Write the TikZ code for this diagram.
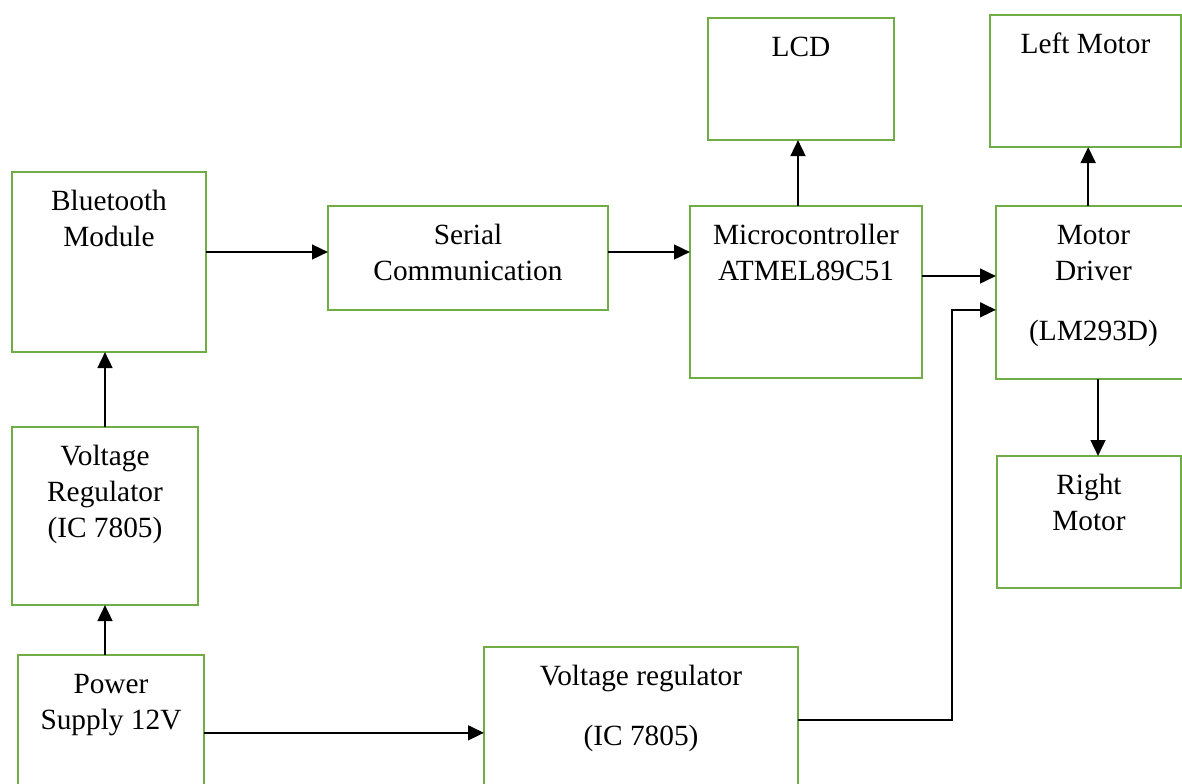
\documentclass[tikz,border=0pt]{standalone}
\usepackage{fontspec}
\setmainfont{Liberation Serif}
\usetikzlibrary{arrows.meta,fit}
\definecolor{boxgreen}{HTML}{70AD47}
\begin{document}
\begin{tikzpicture}[x=0.75pt,y=-0.75pt,
  box/.style={draw=boxgreen,line width=2.2pt,inner sep=0pt,outer sep=0pt},
  txt/.style={font=\fontsize{22}{27}\selectfont,align=center,inner sep=0pt,anchor=north},
  arr/.style={line width=1.9pt,-{Triangle[length=12pt,width=11pt]}}]
\useasboundingbox (0,0) rectangle (1182,783);
\clip (0,0) rectangle (1182,783);
% boxes
\node[box,fit={(708,18) (894,140)}] (lcd) {};
\node[box,fit={(990,15) (1181,147)}] (lm) {};
\node[box,fit={(12,172) (206,352)}] (bt) {};
\node[box,fit={(328,206) (608,310)}] (sc) {};
\node[box,fit={(690,206) (922,378)}] (mc) {};
\node[box,fit={(996,206) (1191,379)}] (md) {};
\node[box,fit={(997,456) (1181,588)}] (rm) {};
\node[box,fit={(12,427) (198,605)}] (vra) {};
\node[box,fit={(18,655) (204,800)}] (ps) {};
\node[box,fit={(484,647) (798,800)}] (vrb) {};
% texts
\node[txt] (lcdT) at ([yshift=-12.5pt]lcd.north) {\rule{0pt}{16pt}LCD};
\node[txt] (lmT) at ([yshift=-12.5pt]lm.north) {\rule{0pt}{16pt}Left Motor};
\node[txt] (btT) at ([yshift=-12.5pt]bt.north) {\rule{0pt}{16pt}Bluetooth\\Module};
\node[txt] (scT) at ([yshift=-12.5pt]sc.north) {\rule{0pt}{16pt}Serial\\Communication};
\node[txt] (mcT) at ([yshift=-12.5pt]mc.north) {\rule{0pt}{16pt}Microcontroller\\ATMEL89C51};
\node[txt] (mdT) at ([yshift=-12.5pt]md.north) {\rule{0pt}{16pt}Motor\\Driver\\[18pt](LM293D)};
\node[txt] (rmT) at ([yshift=-12.5pt]rm.north) {\rule{0pt}{16pt}Right\\Motor};
\node[txt] (vraT) at ([yshift=-12.5pt]vra.north) {\rule{0pt}{16pt}Voltage\\Regulator\\(IC 7805)};
\node[txt] (psT) at ([yshift=-12.5pt]ps.north) {\rule{0pt}{16pt}Power\\Supply 12V};
\node[txt] (vrbT) at ([yshift=-12.5pt]vrb.north) {\rule{0pt}{16pt}Voltage regulator\\[18pt](IC 7805)};
% connectors
\draw[arr] ([yshift=7.5pt]bt.east) -- ([yshift=7.5pt]bt.east -| sc.west);
\draw[arr] ([yshift=4.5pt]sc.east) -- ([yshift=4.5pt]sc.east -| mc.west);
\draw[arr] ([xshift=-2.25pt]lcd.south |- mc.north) -- ([xshift=-2.25pt]lcd.south);
\draw[arr] ([yshift=12pt]mc.east) -- ([yshift=12pt]mc.east -| md.west);
\draw[arr] ([xshift=2pt]lm.south |- md.north) -- ([xshift=2pt]lm.south);
\draw[arr] ([xshift=6.75pt]rm.north |- md.south) -- ([xshift=6.75pt]rm.north);
\draw[arr] (vra.north) -- (vra.north |- bt.south);
\draw[arr] (vra.south |- ps.north) -- (vra.south);
\draw[arr] ([yshift=-4pt]ps.east) -- ([yshift=-4pt]ps.east -| vrb.west);
\draw[arr] ([yshift=2.6pt]vrb.east) -| ([xshift=-33pt,yshift=-13pt]md.west) -- ([yshift=-13pt]md.west);
\end{tikzpicture}
\end{document}
